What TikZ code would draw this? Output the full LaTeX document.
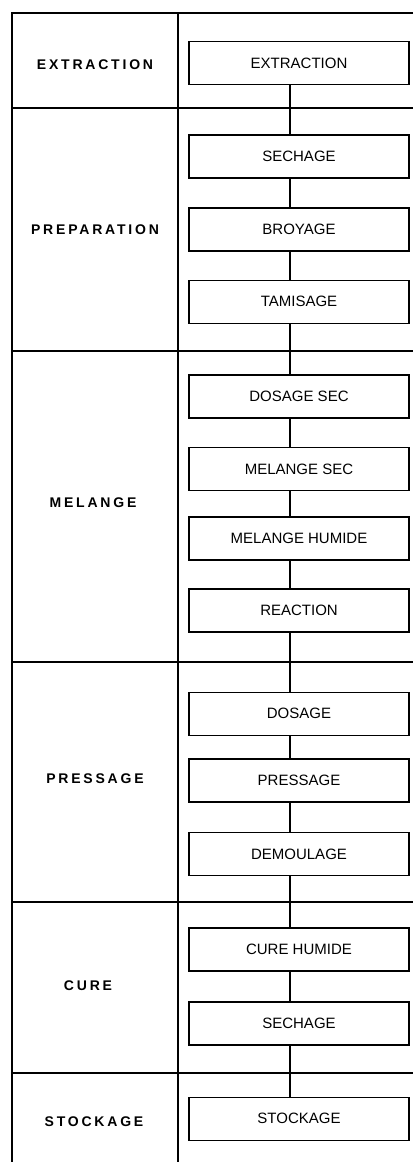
\documentclass[tikz,border=0pt]{standalone}
\usepackage{fontspec}
\setmainfont{Liberation Sans}
\newfontfamily\phasefont{Liberation Sans}[LetterSpace=20]
\usetikzlibrary{positioning}

\begin{document}
\begin{tikzpicture}[x=1pt, y=-1pt,
    stepbox/.style={rectangle, draw, line width=1.6pt, minimum width=220pt, minimum height=43pt,
                    inner sep=0pt, font=\fontsize{15}{18}\selectfont},
    phase/.style={font=\phasefont\bfseries\fontsize{14}{17}\selectfont},
    tabline/.style={line width=1.6pt},
    link/.style={line width=1.8pt}
  ]
  \useasboundingbox (0,0) rectangle (413,1162);
  % table frame
  \draw[tabline] (413,13) -- (12,13) -- (12,1162);
  \draw[tabline] (178,13) -- (178,1162);
  \foreach \y in {108,351,662,902,1073}
    \draw[tabline] (12,\y) -- (413,\y);
  % phases
  \node[phase] (pextr) at (95,65)   {EXTRACTION};
  \node[phase] (pprep) at (95,230)  {PREPARATION};
  \node[phase] (pmel)  at (93,503)  {MELANGE};
  \node[phase] (ppres) at (95,779)  {PRESSAGE};
  \node[phase] (pcure) at (88,986)  {CURE};
  \node[phase] (pstoc) at (94,1122) {STOCKAGE};
  % steps
  \node[stepbox] (extr) at (299,63) {EXTRACTION};
  \node[stepbox, below=49pt of extr]   (sech) {SECHAGE};
  \node[stepbox, below=28pt of sech]   (broy) {BROYAGE};
  \node[stepbox, below=28pt of broy]   (tami) {TAMISAGE};
  \node[stepbox, below=50pt of tami]   (dsec) {DOSAGE SEC};
  \node[stepbox, below=28pt of dsec]   (msec) {MELANGE SEC};
  \node[stepbox, below=25pt of msec]   (mhum) {MELANGE HUMIDE};
  \node[stepbox, below=27pt of mhum]   (reac) {REACTION};
  \node[stepbox, below=59pt of reac]   (dosa) {DOSAGE};
  \node[stepbox, below=22pt of dosa]   (pres) {PRESSAGE};
  \node[stepbox, below=29pt of pres]   (demo) {DEMOULAGE};
  \node[stepbox, below=51pt of demo]   (chum) {CURE HUMIDE};
  \node[stepbox, below=29pt of chum]   (sec2) {SECHAGE};
  \node[stepbox, below=51pt of sec2]   (stoc) {STOCKAGE};
  \foreach \a/\b in {extr/sech, sech/broy, broy/tami, tami/dsec, dsec/msec, msec/mhum, mhum/reac,
                     reac/dosa, dosa/pres, pres/demo, demo/chum, chum/sec2, sec2/stoc}
    \draw[link] ([xshift=-9pt]\a.south) -- ([xshift=-9pt]\b.north);
\end{tikzpicture}
\end{document}
